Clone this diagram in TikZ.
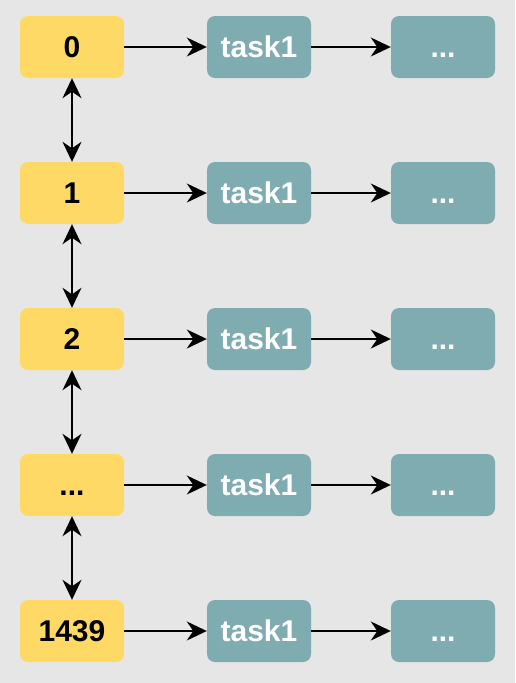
\documentclass[tikz,border=0pt]{standalone}
\usepackage{fontspec}
\setmainfont{Liberation Sans}
\usetikzlibrary{arrows.meta}
\definecolor{bg}{HTML}{E6E6E6}
\definecolor{ybox}{HTML}{FFD966}
\definecolor{tbox}{HTML}{7EACB0}
\newcommand\mydots{\vphantom{0}...}
\tikzset{
  slot/.style={rectangle, rounded corners=8pt, fill=ybox, minimum width=104pt, minimum height=62pt, inner sep=0pt, font=\fontsize{30}{30}\selectfont\bfseries, text=black},
  taskbox/.style={rectangle, rounded corners=8pt, fill=tbox, minimum width=104pt, minimum height=62pt, inner sep=0pt, font=\fontsize{30}{30}\selectfont\bfseries, text=white},
  link/.style={line width=1.7pt, -{Stealth[length=20pt,width=19pt,inset=6.5pt]}},
  dlink/.style={line width=1.7pt, {Stealth[length=20pt,width=19pt,inset=6.5pt]}-{Stealth[length=20pt,width=19pt,inset=6.5pt]}}
}
\begin{document}
\begin{tikzpicture}[x=1pt,y=-1pt]
\fill[bg] (0,0) rectangle (515,683);
\useasboundingbox (0,0) rectangle (515,683);
\foreach \i/\lab/\y in {0/0/47,1/1/193,2/2/339,3/\mydots/485,4/1439/631}{
  \node[slot] (s\i) at (72,\y) {\lab};
  \node[taskbox] (t\i) at (259,\y) {task1};
  \node[taskbox] (d\i) at (443,\y) {\mydots};
  \draw[link] (s\i) -- (t\i);
  \draw[link] (t\i) -- (d\i);
}
\draw[dlink] (s0) -- (s1);
\draw[dlink] (s1) -- (s2);
\draw[dlink] (s2) -- (s3);
\draw[dlink] (s3) -- (s4);
\end{tikzpicture}
\end{document}
